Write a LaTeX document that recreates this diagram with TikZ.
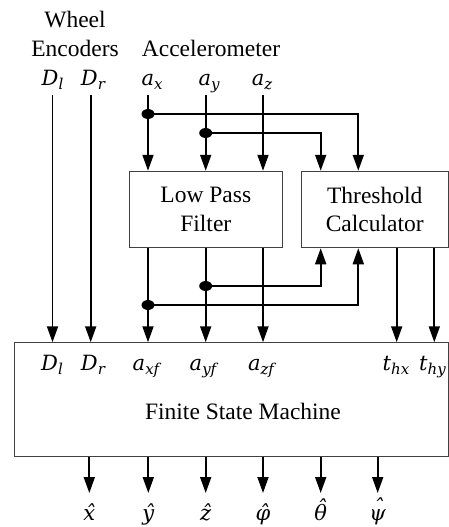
\documentclass[tikz,border=0pt]{standalone}
\usepackage{fontspec}
\setmainfont{Liberation Serif}
\newfontfamily\varfont{DejaVu Serif}
\usetikzlibrary{arrows.meta,shapes.geometric}
\newcommand\vsub[2]{{\varfont\itshape\fontsize{21}{21}\selectfont #1\raisebox{-4.5pt}{\fontsize{15}{15}\selectfont #2}}}
\newcommand\vhat[3][0pt]{{\varfont\itshape\fontsize{21}{21}\selectfont\ooalign{#2\cr\hidewidth\kern#3\raisebox{#1}{ˆ}\hidewidth\cr}}}
\begin{document}
\begin{tikzpicture}[x=1pt,y=-1pt,
  txt/.style={inner sep=0pt,font=\fontsize{23.5}{28.5}\selectfont,align=center},
  var/.style={inner sep=0pt,anchor=base},
  boxn/.style={draw=black!75,line width=0.9pt,inner sep=0pt,font=\fontsize{23.5}{28.5}\selectfont,align=center},
  arr/.style={line width=1.8pt,-{Triangle[length=16pt,width=11pt]}},
  dotn/.style={fill=black,ellipse,minimum width=13pt,minimum height=10pt,inner sep=0pt}]
\useasboundingbox (0,0) rectangle (449,527);
% boxes
\node[boxn,minimum width=153pt,minimum height=76.6pt] (lpf) at (205.8,209.5) {Low Pass\\Filter};
\node[boxn,minimum width=147.5pt,minimum height=76.6pt] (thr) at (374.75,209.5) {Threshold\\Calculator};
\node[boxn,minimum width=433.8pt,minimum height=114pt] (fsm) at (231.6,399.7) {};
\node[txt] (fsmt) at (243,411.7) {Finite State Machine};
% top labels
\node[txt] (wheel) at (75,34) {Wheel\\Encoders};
\node[txt] (acc) at (211,48.5) {Accelerometer};
\node[var] (dl) at (52.5,85) {\vsub{D}{l}};
\node[var] (dr) at (93,85) {\vsub{D}{r}};
\node[var] (axl) at (152,85) {\vsub{a}{x}};
\node[var] (ayl) at (209,85) {\vsub{a}{y}};
\node[var] (azl) at (262,85) {\vsub{a}{z}};
% line starts
\coordinate (cdl) at (52.5,95);
\coordinate (cdr) at (90.7,95);
\coordinate (cax) at (148,95);
\coordinate (cay) at (205.7,95);
\coordinate (caz) at (263,95);
% branch points
\node[dotn] (d1) at (148,114) {};
\node[dotn] (d2) at (205.7,133) {};
\node[dotn] (d3) at (205.7,286) {};
\node[dotn] (d4) at (148,305) {};
\coordinate (t1) at (320.7,0);
\coordinate (t2) at (358.3,0);
\coordinate (o1) at (396.7,0);
\coordinate (o2) at (434.3,0);
% inputs
\draw[arr] (cdl) -- (cdl |- fsm.north);
\draw[arr] (cdr) -- (cdr |- fsm.north);
\draw[arr] (cax) -- (cax |- lpf.north);
\draw[arr] (cay) -- (cay |- lpf.north);
\draw[arr] (caz) -- (caz |- lpf.north);
\draw[arr] (d1.center) -- (t2 |- d1) -- (t2 |- thr.north);
\draw[arr] (d2.center) -- (t1 |- d2) -- (t1 |- thr.north);
% filter outputs
\draw[arr] (cax |- lpf.south) -- (cax |- fsm.north);
\draw[arr] (cay |- lpf.south) -- (cay |- fsm.north);
\draw[arr] (caz |- lpf.south) -- (caz |- fsm.north);
\draw[arr] (d3.center) -- (t1 |- d3) -- (t1 |- thr.south);
\draw[arr] (d4.center) -- (t2 |- d4) -- (t2 |- thr.south);
% threshold outputs
\draw[arr] (o1 |- thr.south) -- (o1 |- fsm.north);
\draw[arr] (o2 |- thr.south) -- (o2 |- fsm.north);
% FSM input labels
\node[var] (fdl) at (52,370) {\vsub{D}{l}};
\node[var] (fdr) at (93,370) {\vsub{D}{r}};
\node[var] (fax) at (146,370) {\vsub{a}{xf}};
\node[var] (fay) at (203,370) {\vsub{a}{yf}};
\node[var] (faz) at (261,370) {\vsub{a}{zf}};
\node[var] (fth) at (396,370) {\vsub{t}{hx}};
\node[var] (fty) at (432.5,370) {\vsub{t}{hy}};
% outputs
\foreach \x/\n/\l in {89.3/ox/{\vhat{x}{1pt}},148.3/oy/{\vhat{y}{1.5pt}},205.7/oz/{\vhat{z}{1pt}},263/op/{\vhat{φ}{1pt}},320.7/ot/{\vhat[5pt]{θ}{1.5pt}},377.7/os/{\vhat[6pt]{ψ}{1.5pt}}}{
  \coordinate (\n) at (\x,493);
  \node[var] (\n l) at (\x,520) {\l};
  \draw[arr] (\n |- fsm.south) -- (\n);
}
\end{tikzpicture}
\end{document}
